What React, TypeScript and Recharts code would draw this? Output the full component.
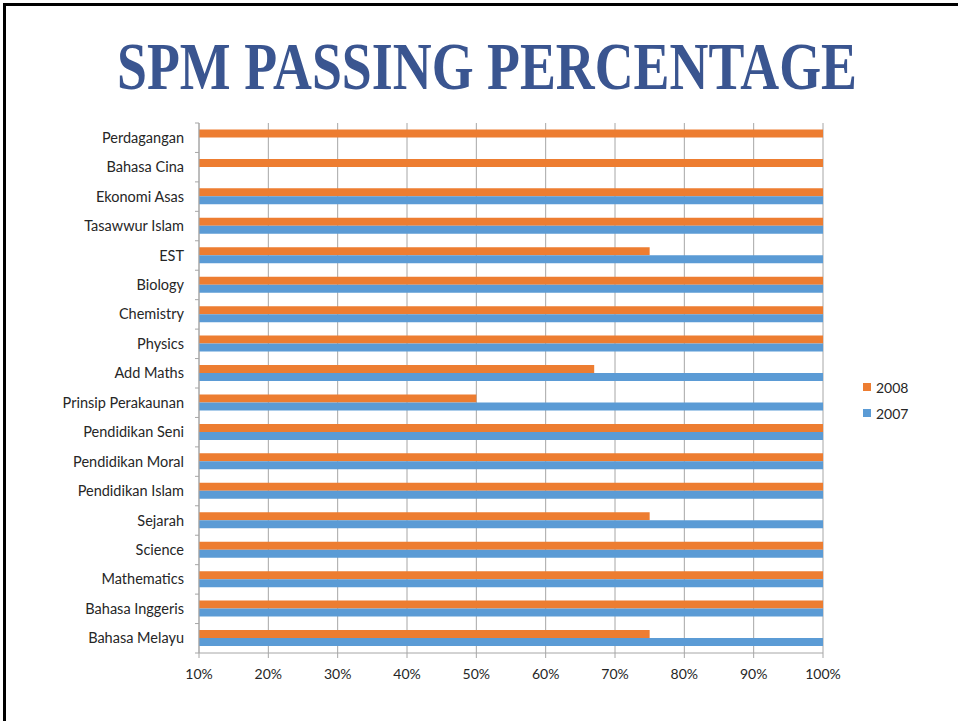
import { BarChart, Bar, XAxis, YAxis, CartesianGrid, Legend } from 'recharts';

// subjects, top to bottom as shown on the chart
const subjects = [
  'Perdagangan',
  'Bahasa Cina',
  'Ekonomi Asas',
  'Tasawwur Islam',
  'EST',
  'Biology',
  'Chemistry',
  'Physics',
  'Add Maths',
  'Prinsip Perakaunan',
  'Pendidikan Seni',
  'Pendidikan Moral',
  'Pendidikan Islam',
  'Sejarah',
  'Science',
  'Mathematics',
  'Bahasa Inggeris',
  'Bahasa Melayu',
];

const pass2008 = [100, 100, 100, 100, 75, 100, 100, 100, 67, 50, 100, 100, 100, 75, 100, 100, 100, 75];
// no 2007 result for Perdagangan and Bahasa Cina
const pass2007 = [null, null, 100, 100, 100, 100, 100, 100, 100, 100, 100, 100, 100, 100, 100, 100, 100, 100];

const xTicks = [10, 20, 30, 40, 50, 60, 70, 80, 90, 100];
const legendOrder = ['2008', '2007'];

const data = subjects.map((name, i) => ({
  name,
  y2008: pass2008[i],
  y2007: pass2007[i],
}));

const ORANGE = '#ED7D31';
const BLUE = '#5B9BD5';
const GRID = '#A6A6A6';
const TEXT = '#262626';
const FONT = 'Lato, "Open Sans", sans-serif';

const CHART_W = 958;
const CHART_H = 721;
const MARGIN = { top: 123, right: 75, bottom: 0, left: 0 };
const X_AXIS_H = 68;
const BAND = (CHART_H - MARGIN.top - MARGIN.bottom - X_AXIS_H) / subjects.length;

// label centred in the band, tick mark on the band boundary (excel style)
function SubjectTick(props: any) {
  const { x, y, payload, index, visibleTicksCount } = props;
  const lineX1 = x + 11;
  const lineX2 = x + 15;
  return (
    <g>
      <line x1={lineX1} x2={lineX2} y1={y - BAND / 2} y2={y - BAND / 2} stroke={GRID} />
      {index === visibleTicksCount - 1 && (
        <line x1={lineX1} x2={lineX2} y1={y + BAND / 2} y2={y + BAND / 2} stroke={GRID} />
      )}
      <text x={x} y={y} dy="0.35em" textAnchor="end" fill={TEXT} fontSize={14.5} fontFamily={FONT}>
        {payload.value}
      </text>
    </g>
  );
}

function LegendBox({ payload }: any) {
  const items = [...(payload || [])].sort(
    (a: any, b: any) => legendOrder.indexOf(a.value) - legendOrder.indexOf(b.value)
  );
  return (
    <div style={{ fontFamily: FONT, fontSize: 14, color: TEXT }}>
      {items.map((entry: any) => (
        <div key={entry.value} style={{ display: 'flex', alignItems: 'center', height: 26 }}>
          <span style={{ width: 8, height: 8, background: entry.color, marginRight: 5, display: 'inline-block' }} />
          <span>{entry.value}</span>
        </div>
      ))}
    </div>
  );
}

export default function App() {
  return (
    <div
      style={{
        position: 'absolute',
        left: 0,
        top: 0,
        width: CHART_W,
        height: CHART_H,
        background: '#fff',
        overflow: 'hidden',
      }}
    >
      {/* slide frame (only top and left edges are in the picture) */}
      <div style={{ position: 'absolute', left: 3, top: 3, width: 3, height: CHART_H, background: '#000' }} />
      <div style={{ position: 'absolute', left: 3, top: 3, width: CHART_W, height: 3, background: '#000' }} />

      <svg style={{ position: 'absolute', left: 0, top: 0 }} width={CHART_W} height={115}>
        <text
          transform="translate(117,89) scale(1,1.28)"
          x={0}
          y={0}
          textLength={740}
          lengthAdjust="spacingAndGlyphs"
          fill="#3A5590"
          fontSize={53}
          fontWeight="bold"
          fontFamily='"Liberation Serif", "DejaVu Serif", serif'
        >
          SPM PASSING PERCENTAGE
        </text>
      </svg>

      <div style={{ position: 'absolute', left: 0, top: 0 }}>
        <BarChart
          width={CHART_W}
          height={CHART_H}
          data={data}
          layout="vertical"
          margin={MARGIN}
          barCategoryGap="22%"
          barGap={0}
        >
          <CartesianGrid horizontal={false} vertical stroke={GRID} />
          <XAxis
            type="number"
            domain={[10, 100]}
            ticks={xTicks}
            interval={0}
            height={X_AXIS_H}
            tickFormatter={(v) => `${v}%`}
            tickSize={5}
            tickMargin={11}
            axisLine={{ stroke: GRID }}
            tickLine={{ stroke: GRID }}
            tick={{ fill: TEXT, fontSize: 14, fontFamily: FONT }}
          />
          <YAxis
            type="category"
            dataKey="name"
            width={199}
            interval={0}
            tickSize={4}
            tickMargin={11}
            tickLine={false}
            axisLine={{ stroke: GRID }}
            tick={<SubjectTick />}
          />
          <Legend
            layout="vertical"
            align="right"
            verticalAlign="middle"
            content={<LegendBox />}
            wrapperStyle={{ left: 863, top: 374, width: 60 }}
          />
          <Bar dataKey="y2008" name="2008" fill={ORANGE} isAnimationActive={false} />
          <Bar dataKey="y2007" name="2007" fill={BLUE} isAnimationActive={false} />
        </BarChart>
      </div>
    </div>
  );
}
